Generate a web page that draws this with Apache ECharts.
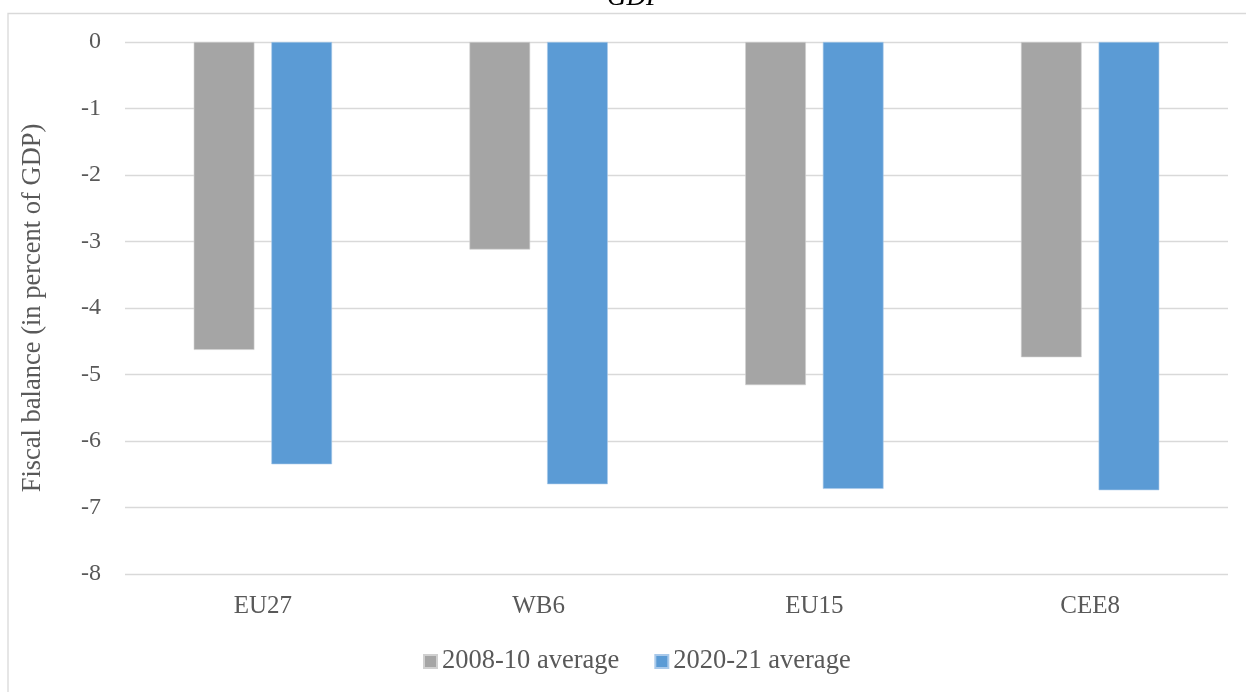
<!DOCTYPE html>
<html>
<head>
<meta charset="utf-8">
<script src="https://cdn.jsdelivr.net/npm/echarts@6/dist/echarts.min.js"></script>
<style>
  html, body { margin: 0; padding: 0; background: #fff; }
  #chart { width: 1246px; height: 692px; }
</style>
</head>
<body>
<div id="chart"></div>
<script>
// Fiscal balance by country group, in percent of GDP
const categories = ['EU27', 'WB6', 'EU15', 'CEE8'];
const avg2008_10 = [-4.63, -3.12, -5.16, -4.74];
const avg2020_21 = [-6.35, -6.65, -6.72, -6.74];
const seriesNames = ['2008-10 average', '2020-21 average'];
const yTicks = { min: -8, max: 0, interval: 1 };

const FONT = '"Liberation Serif", "DejaVu Serif", serif';
const TEXT = '#595959';

const chart = echarts.init(document.getElementById('chart'), null, { renderer: 'canvas' });

chart.setOption({
  animation: false,
  backgroundColor: '#ffffff',
  title: {
    text: 'GDP',
    left: 602,
    top: -21,
    textStyle: { fontFamily: FONT, fontStyle: 'italic', fontWeight: 'normal', fontSize: 27, color: '#000' }
  },
  graphic: [{
    type: 'rect',
    shape: { x: 8, y: 13.5, width: 1260, height: 700 },
    style: { fill: 'none', stroke: '#d9d9d9', lineWidth: 1.3 },
    silent: true,
    z: -1
  }],
  grid: { left: 125, right: 18, top: 42, bottom: 118 },
  legend: {
    data: seriesNames,
    top: 643,
    left: 418,
    itemWidth: 13,
    itemHeight: 13,
    itemGap: 35,
    icon: 'rect',
    textStyle: { fontFamily: FONT, fontSize: 26.5, color: TEXT, padding: [0, 0, 0, 0] }
  },
  xAxis: {
    type: 'category',
    data: categories,
    position: 'bottom',
    axisLine: { show: false },
    axisTick: { show: false },
    axisLabel: { fontFamily: FONT, fontSize: 25, color: TEXT, margin: 20 }
  },
  yAxis: {
    type: 'value',
    min: yTicks.min,
    max: yTicks.max,
    interval: yTicks.interval,
    name: 'Fiscal balance (in percent of GDP)',
    nameLocation: 'middle',
    nameGap: 78,
    nameTextStyle: { fontFamily: FONT, fontSize: 26.5, color: TEXT },
    axisLine: { show: false },
    axisTick: { show: false },
    axisLabel: { fontFamily: FONT, fontSize: 24, color: TEXT, margin: 24 },
    splitLine: { lineStyle: { color: '#d9d9d9', width: 1.3 } }
  },
  series: [
    {
      name: seriesNames[0],
      type: 'bar',
      data: avg2008_10,
      barWidth: '22%',
      barGap: '28%',
      itemStyle: { color: '#a5a5a5', borderColor: '#d0d0d0', borderWidth: 0.6 }
    },
    {
      name: seriesNames[1],
      type: 'bar',
      data: avg2020_21,
      barWidth: '22%',
      barGap: '28%',
      itemStyle: { color: '#5b9bd5', borderColor: '#a9c9ea', borderWidth: 0.6 }
    }
  ]
});
</script>
</body>
</html>
